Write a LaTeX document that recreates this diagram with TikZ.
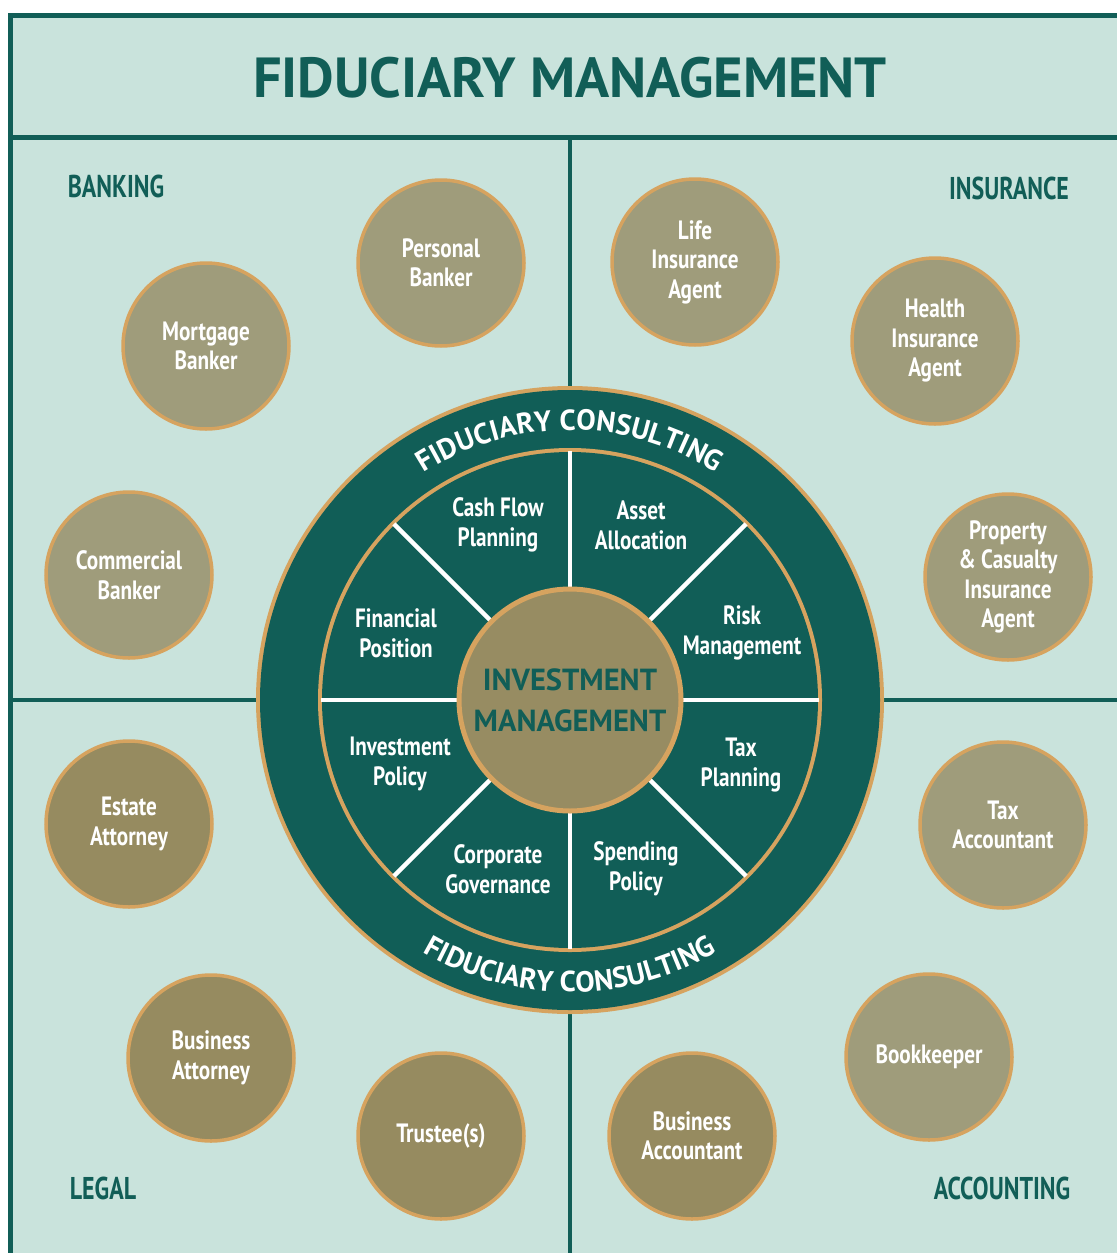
\documentclass[tikz,border=0pt]{standalone}
\usepackage{fontspec}
\setmainfont{PT Sans}
\newfontfamily\condfont[FakeStretch=0.80]{PT Sans}
\newfontfamily\headfont[FakeStretch=0.76]{PT Sans}
\newfontfamily\plainfont{PT Sans}
\usetikzlibrary{decorations.text}
\definecolor{bgmint}{HTML}{C9E3DC}
\definecolor{deepteal}{HTML}{115E57}
\definecolor{khakilight}{HTML}{9F9C7B}
\definecolor{khakidark}{HTML}{968B60}
\definecolor{ringtan}{HTML}{D6A35F}
\definecolor{hubfill}{HTML}{978C62}
\tikzset{
  bubble/.style={circle, draw=ringtan, line width=3.5pt, minimum size=166pt, inner sep=0pt,
    align=center, text=white, font=\condfont\bfseries\fontsize{26.5}{29.5}\selectfont},
  lightbubble/.style={bubble, fill=khakilight},
  darkbubble/.style={bubble, fill=khakidark},
  wheeltext/.style={align=center, text=white, font=\condfont\bfseries\fontsize{26.5}{30}\selectfont},
  sectiontext/.style={text=deepteal, font=\headfont\bfseries\fontsize{31.5}{32}\selectfont},
  divider/.style={draw=deepteal, line width=4pt},
  spoke/.style={draw=white, line width=4.5pt}
}
\begin{document}
\begin{tikzpicture}[x=1pt,y=1pt]
\useasboundingbox (0,0) rectangle (1117,-1253);
% background and frame
\fill[bgmint] (13,-18) rectangle (1117,-1253);
\draw[deepteal, line width=5pt] (10.5,-1253) -- (10.5,-15.5) -- (1117,-15.5);
\draw[deepteal, line width=5pt] (8,-137.5) -- (1117,-137.5);
\draw[divider] (570,-140) -- (570,-1253);
\draw[divider] (13,-700) -- (1117,-700);
% title
\node (title) at (570,-78) {\plainfont\bfseries\fontsize{56.5}{60}\selectfont\color{deepteal}FIDUCIARY MANAGEMENT};
% section labels
\node[sectiontext] (banking) at (116,-186) {BANKING};
\node[sectiontext] (insurance) at (1009,-188) {INSURANCE};
\node[sectiontext] (legal) at (103,-1188) {LEGAL};
\node[sectiontext] (accounting) at (1002,-1188) {ACCOUNTING};
% wheel
\coordinate (C) at (570,-700);
\fill[ringtan] (C) circle (314);
\fill[deepteal] (C) circle (310);
\fill[ringtan] (C) circle (252);
\fill[deepteal] (C) circle (248);
\foreach \a in {0,45,...,315} {
  \draw[spoke] (C) -- ++(\a:249);
}
\node[circle, fill=hubfill, draw=ringtan, line width=5pt, minimum size=222pt, inner sep=0pt,
  align=center, text=deepteal, font=\plainfont\bfseries\fontsize{30.5}{41}\selectfont] (hub) at (C)
  {INVESTMENT\\MANAGEMENT};
% arc texts
\path[decorate, decoration={text along path, text align=center, text color=white,
  text={|\plainfont\bfseries\fontsize{29}{30}\selectfont|FIDUCIARY CONSULTING}}]
  ([shift={(150:270)}]C) arc[start angle=150, end angle=30, radius=270];
\path[decorate, decoration={text along path, text align=center, text color=white,
  text={|\plainfont\bfseries\fontsize{29}{30}\selectfont|FIDUCIARY CONSULTING}}]
  ([shift={(210:292)}]C) arc[start angle=210, end angle=330, radius=292];
% wheel labels
\node[wheeltext] (cashflow) at (498,-525) {Cash Flow\\Planning};
\node[wheeltext] (asset) at (641,-525) {Asset\\Allocation};
\node[wheeltext] (finpos) at (396,-633) {Financial\\Position};
\node[wheeltext] (risk) at (742,-633) {Risk\\Management};
\node[wheeltext] (invpol) at (400,-764) {Investment\\Policy};
\node[wheeltext] (tax) at (741,-765) {Tax\\Planning};
\node[wheeltext] (corp) at (498,-869) {Corporate\\Governance};
\node[wheeltext] (spend) at (636,-869) {Spending\\Policy};
% bubbles
\node[lightbubble] (personal) at (441,-263) {Personal\\Banker};
\node[lightbubble] (mortgage) at (206,-346) {Mortgage\\Banker};
\node[lightbubble] (commercial) at (129,-575) {Commercial\\Banker};
\node[lightbubble] (life) at (695,-262) {Life\\Insurance\\Agent};
\node[lightbubble] (health) at (935,-341) {Health\\Insurance\\Agent};
\node[lightbubble] (property) at (1008,-577) {Property\\\& Casualty\\Insurance\\Agent};
\node[darkbubble] (estate) at (129,-824) {Estate\\Attorney};
\node[lightbubble] (taxacc) at (1003,-825) {Tax\\Accountant};
\node[darkbubble] (busatt) at (211,-1058) {Business\\Attorney};
\node[lightbubble] (bookkeeper) at (929,-1057) {Bookkeeper};
\node[darkbubble] (trustee) at (441,-1136) {Trustee(s)};
\node[darkbubble] (busacc) at (692,-1136) {Business\\Accountant};
\end{tikzpicture}
\end{document}
